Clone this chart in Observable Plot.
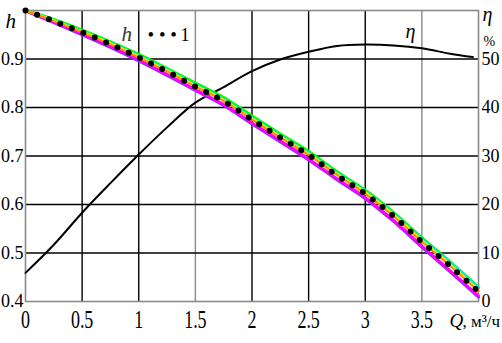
<!DOCTYPE html>
<html><head><meta charset="utf-8">
<script src="https://cdn.jsdelivr.net/npm/d3@7"></script>
<script src="https://cdn.jsdelivr.net/npm/@observablehq/plot@0.6"></script>
<style>body{margin:0;background:#fff} svg{display:block}</style>
</head><body><div id="chart"></div>
<script>
// Flow rate Q, m3/h
const Q = [0, 0.25, 0.5, 0.75, 1, 1.25, 1.5, 1.75, 2, 2.25, 2.5, 2.75, 3, 3.25, 3.5, 3.75, 4];
// head curves h (relative)
const hDots    = [1.000, 0.978, 0.955, 0.930, 0.903, 0.874, 0.843, 0.813, 0.775, 0.738, 0.702, 0.660, 0.622, 0.576, 0.523, 0.473, 0.420];
const hGreen   = [1.000, 0.981, 0.959, 0.935, 0.909, 0.880, 0.850, 0.820, 0.782, 0.745, 0.709, 0.667, 0.629, 0.583, 0.531, 0.481, 0.429];
const hCyan    = [1.000, 0.980, 0.957, 0.933, 0.907, 0.878, 0.847, 0.817, 0.779, 0.742, 0.706, 0.665, 0.627, 0.581, 0.529, 0.480, 0.428];
const hYellow  = [1.000, 0.979, 0.956, 0.932, 0.905, 0.876, 0.845, 0.815, 0.777, 0.740, 0.704, 0.663, 0.625, 0.579, 0.526, 0.476, 0.424];
const hOrange  = [1.000, 0.978, 0.955, 0.930, 0.903, 0.874, 0.843, 0.813, 0.775, 0.738, 0.702, 0.661, 0.622, 0.576, 0.523, 0.473, 0.421];
const hMagenta = [1.000, 0.976, 0.952, 0.926, 0.898, 0.868, 0.837, 0.806, 0.768, 0.731, 0.694, 0.653, 0.614, 0.567, 0.514, 0.463, 0.411];
const hBlue    = [0.999, 0.975, 0.950, 0.924, 0.896, 0.866, 0.835, 0.804, 0.766, 0.729, 0.692, 0.651, 0.612, 0.565, 0.512, 0.461, 0.409];
// efficiency eta, %
const Qeta = [0, 0.25, 0.5, 0.75, 1, 1.25, 1.5, 1.75, 2, 2.25, 2.5, 2.75, 3, 3.25, 3.5, 3.75, 3.95];
const eta  = [5.9, 11.7, 18.3, 24.4, 30.3, 35.9, 41.0, 44.2, 47.5, 49.9, 51.5, 52.7, 53.0, 52.8, 52.2, 51.1, 50.4];
// ticks
const xTicks = [0, 0.5, 1, 1.5, 2, 2.5, 3, 3.5];
const hTicks = [0.4, 0.5, 0.6, 0.7, 0.8, 0.9];
const etaTicks = [0, 10, 20, 30, 40, 50];
const gridGray = [1.5, 3.5];

const rows = (ys) => Q.map((q, i) => ({q, h: ys[i]}));
const etaRows = Qeta.map((q, i) => ({q, e: eta[i]}));
const etaToH = e => 0.4 + e / 100;

const curve = "catmull-rom";
const W = 502, H = 343, ML = 25, MT = 10;
const ann = (s, X, Y, o = {}) => Plot.text([s], {text: d => d, frameAnchor: "top-left", dx: X - ML, dy: Y - MT,
  textAnchor: "start", lineAnchor: "bottom", fill: "#000", ...o});

const chart = Plot.plot({
  width: W, height: H,
  marginLeft: ML, marginRight: 24, marginTop: MT, marginBottom: 42,
  style: {fontFamily: "'Liberation Serif', 'Times New Roman', serif", fontSize: "18px", background: "#fff", color: "#000"},
  x: {domain: [0, 4], label: null},
  y: {domain: [0.4, 1.0], label: null},
  marks: [
    Plot.ruleX(xTicks.slice(1), {stroke: d => gridGray.includes(d) ? "#8a8a8a" : "#000", strokeWidth: 1.4}),
    Plot.ruleY(hTicks.slice(1), {stroke: "#000", strokeWidth: 1.4}),
    Plot.frame({stroke: "#8a8a8a", strokeWidth: 1.6}),
    Plot.axisX({ticks: xTicks, tickSize: 0, tickPadding: 9, label: null, tickFormat: d => String(d), fontSize: 18, className: "xax"}),
    Plot.axisY({ticks: hTicks, tickSize: 0, tickPadding: 2, label: null, tickFormat: d => d.toFixed(1), fontSize: 18}),
    Plot.axisY({anchor: "right", ticks: etaTicks.map(etaToH), tickSize: 0, tickPadding: 3, label: null,
      tickFormat: d => String(Math.round((d - 0.4) * 100)), fontSize: 18}),
    Plot.line(etaRows, {x: "q", y: d => etaToH(d.e), stroke: "#000", strokeWidth: 2, curve}),
    Plot.line(rows(hGreen), {x: "q", y: "h", stroke: "#00ff00", strokeWidth: 3.5, curve}),
    Plot.line(rows(hCyan), {x: "q", y: "h", stroke: "#00e8ff", strokeWidth: 2.5, curve}),
    Plot.line(rows(hBlue), {x: "q", y: "h", stroke: "#6a40ff", strokeWidth: 3, curve}),
    Plot.line(rows(hMagenta), {x: "q", y: "h", stroke: "#ff00ff", strokeWidth: 3, curve}),
    Plot.line(rows(hYellow), {x: "q", y: "h", stroke: "#ffe000", strokeWidth: 2.5, curve}),
    Plot.line(rows(hOrange), {x: "q", y: "h", stroke: "#ff8c00", strokeWidth: 2, curve}),
    Plot.line(rows(hDots), {x: "q", y: "h", stroke: "#000", strokeWidth: 6, strokeDasharray: "0 12.4", strokeLinecap: "round", curve}),
    ann("h", 5, 27, {fontStyle: "italic", fontSize: 21}),
    ann("h", 121, 40, {fontStyle: "italic", fontSize: 21, fill: "#333"}),
    ann("• • •", 147, 40, {fontSize: 19}),
    ann("1", 180, 40, {fontSize: 18}),
    ann("η", 405, 37, {fontStyle: "italic", fontSize: 20}),
    ann("η", 482, 20, {fontStyle: "italic", fontSize: 20}),
    ann("%", 483, 45, {fontSize: 14}),
    ann("Q", 449, 326, {fontStyle: "italic", fontSize: 19}),
    ann(", м³/ч", 462, 326, {fontSize: 17})
  ]
});
document.getElementById("chart").appendChild(chart);
d3.select(chart).selectAll("g.xax text").each(function() {
  const t = d3.select(this).attr("transform") || "";
  d3.select(this).attr("transform", t + " scale(1,1.35)");
});
</script>
</body></html>
